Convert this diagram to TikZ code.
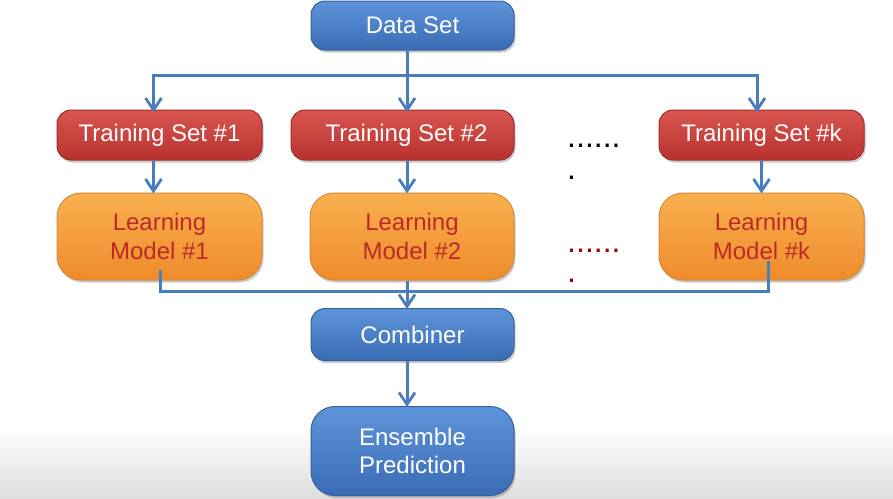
\documentclass[tikz,border=0pt]{standalone}
\usepackage{fontspec}
\setmainfont{Liberation Sans}
\usetikzlibrary{arrows.meta,shadows}
\definecolor{lineblue}{HTML}{4A7EBB}
\definecolor{bluetop}{HTML}{5E94DA}
\definecolor{bluebot}{HTML}{3A6CB4}
\definecolor{blueedge}{HTML}{35609E}
\definecolor{redtop}{HTML}{D95550}
\definecolor{redbot}{HTML}{B8332F}
\definecolor{rededge}{HTML}{9E2E2B}
\definecolor{ortop}{HTML}{FAB04E}
\definecolor{orbot}{HTML}{EE8B2C}
\definecolor{oredge}{HTML}{D38A3C}
\definecolor{ortext}{HTML}{BE2A28}
\tikzset{
  box/.style={rounded corners=14pt, line width=1pt, align=center, inner sep=0pt,
    font=\fontsize{24}{28.5}\selectfont,
    drop shadow={shadow xshift=1.5pt, shadow yshift=-2.5pt, opacity=0.35, fill=black!60}},
  bluebox/.style={box, draw=blueedge, top color=bluetop, bottom color=bluebot, text=white},
  redbox/.style={box, draw=rededge, top color=redtop, bottom color=redbot, text=white},
  orbox/.style={box, rounded corners=24pt, draw=oredge, top color=ortop, bottom color=orbot, text=ortext},
  conn/.style={draw=lineblue, line width=3pt},
  arr/.style={conn, -{Straight Barb[length=12pt,width=16pt,line width=2.8pt]}},
  dots/.style={inner sep=0pt, anchor=base west, font=\fontsize{32}{32}\selectfont}
}
\begin{document}
\begin{tikzpicture}[x=1pt,y=-1pt]
\useasboundingbox (0,0) rectangle (893,498);
\shade[top color=white, bottom color=black!13] (0,425) rectangle (893,498);

\node[bluebox, minimum width=203pt, minimum height=49pt] (ds) at (412.5,25.5) {Data Set};

\node[redbox, minimum width=205pt, minimum height=50pt] (ts1) at (159.5,135) {Training Set \#1};
\node[redbox, minimum width=223pt, minimum height=50pt] (ts2) at (402.5,135) {\hspace*{8pt}Training Set \#2};
\node[redbox, minimum width=205pt, minimum height=50pt] (tsk) at (761.5,135) {Training Set \#k};

\node[orbox, minimum width=205pt, minimum height=87pt] (lm1) at (159.5,236.5) {Learning\\Model \#1};
\node[orbox, minimum width=204pt, minimum height=87pt] (lm2) at (412,236.5) {Learning\\Model \#2};
\node[orbox, minimum width=205pt, minimum height=87pt] (lmk) at (761.5,236.5) {Learning\\Model \#k};

\node[bluebox, minimum width=203pt, minimum height=52pt] (comb) at (412.5,334.5) {Combiner};
\node[bluebox, rounded corners=24pt, minimum width=203pt, minimum height=89pt] (ens) at (412.5,451) {Ensemble\\Prediction};

\node[dots] (d1) at (567,147) {......};
\node[dots] (d2) at (567,179) {.};
\node[dots, text=red!60!black] (d3) at (567,252) {......};
\node[dots, text=red!60!black] (d4) at (567,282) {.};

% fan-out from Data Set
\coordinate (hub) at (407,75);
\draw[conn] ([xshift=-5.5pt]ds.south) -- (hub);
\draw[arr] (hub) -| ([xshift=-6pt,yshift=-3pt]ts1.north);
\draw[arr] (hub) -- ([yshift=-3pt]ts2.north -| hub);
\draw[arr] (hub) -| ([xshift=-4.5pt,yshift=-3pt]tsk.north);

% training to learning
\draw[arr] ([xshift=-6pt]ts1.south) -- ([xshift=-6pt,yshift=-1pt]lm1.north);
\draw[arr] (ts2.south -| hub) -- ([yshift=-1pt]lm2.north -| hub);
\draw[arr] (tsk.south) -- ([yshift=-1pt]lmk.north);

% collect into combiner
\coordinate (c1) at (160,270);
\coordinate (ck) at (768,261);
\coordinate (bot) at (407,291);
\draw[conn, line join=miter] (c1) |- (bot) -| (ck);
\draw[arr] (lm2.south -| bot) -- ([yshift=-1pt]comb.north -| bot);

\draw[arr] (comb.south -| bot) -- ([yshift=-1pt]ens.north -| bot);
\end{tikzpicture}
\end{document}
